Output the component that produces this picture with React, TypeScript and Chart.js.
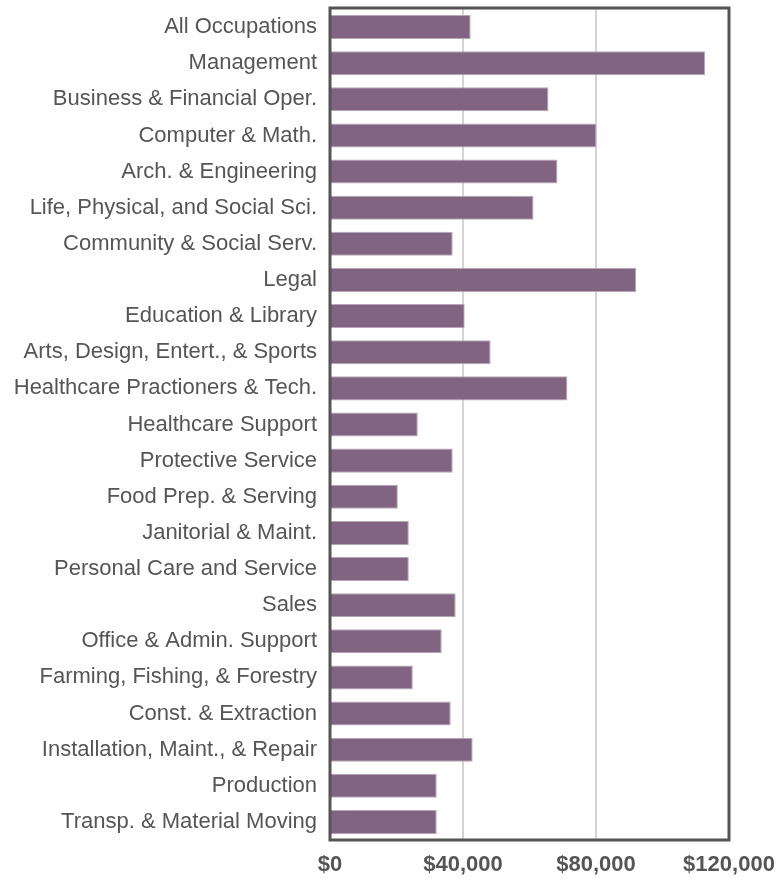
import React, { useEffect, useRef } from "react";
import { Chart, registerables } from "chart.js";

Chart.register(...registerables);

const categories = [
  "All Occupations",
  "Management",
  "Business & Financial Oper.",
  "Computer & Math.",
  "Arch. & Engineering",
  "Life, Physical, and Social Sci.",
  "Community & Social Serv.",
  "Legal",
  "Education & Library",
  "Arts, Design, Entert., & Sports",
  "Healthcare Practioners & Tech.",
  "Healthcare Support",
  "Protective Service",
  "Food Prep. & Serving",
  "Janitorial & Maint.",
  "Personal Care and Service",
  "Sales",
  "Office & Admin. Support",
  "Farming, Fishing, & Forestry",
  "Const. & Extraction",
  "Installation, Maint., & Repair",
  "Production",
  "Transp. & Material Moving",
];

const medianWages = [
  42300, 112800, 65700, 80100, 68400, 61200, 36900, 92100, 40500, 48300, 71400,
  26400, 36900, 20400, 23700, 23700, 37800, 33600, 24900, 36300, 42900, 32100,
  32100,
];

const xTickValues = [0, 40000, 80000, 120000];

const framePlugin = {
  id: "frame",
  afterDraw(chart: any) {
    const { ctx, chartArea } = chart;
    ctx.save();
    ctx.strokeStyle = "#555555";
    ctx.lineWidth = 3;
    ctx.strokeRect(
      chartArea.left,
      chartArea.top - 1,
      chartArea.right - chartArea.left,
      chartArea.bottom - chartArea.top + 1
    );
    ctx.restore();
  },
};

export default function App() {
  const ref = useRef<HTMLCanvasElement>(null);
  useEffect(() => {
    document.body.style.margin = "0";
    const chart = new Chart(ref.current!, {
      type: "bar",
      data: {
        labels: categories,
        datasets: [
          {
            data: medianWages,
            backgroundColor: "#806481",
            borderColor: "#b8a6b8",
            borderWidth: 1,
            borderSkipped: "start",
            barPercentage: 0.665,
            categoryPercentage: 1,
          },
        ],
      },
      options: {
        indexAxis: "y",
        animation: false,
        responsive: false,
        maintainAspectRatio: false,
        layout: { padding: { top: 9, right: 49, left: 0, bottom: 0 } },
        plugins: { legend: { display: false }, tooltip: { enabled: false } },
        scales: {
          x: {
            min: 0,
            max: 120000,
            afterBuildTicks(scale: any) {
              scale.ticks = xTickValues.map((v) => ({ value: v }));
            },
            afterFit(scale: any) {
              scale.height = 40;
              scale.paddingLeft = 0;
              scale.paddingRight = 0;
            },
            grid: {
              color: (c: any) =>
                c.tick && (c.tick.value === 0 || c.tick.value === 120000)
                  ? "rgba(0,0,0,0)"
                  : "#d4d4d4",
              lineWidth: 2,
              drawTicks: false,
            },
            border: { display: false },
            ticks: {
              padding: 12,
              color: "#555555",
              font: { family: "Liberation Sans, Arial, sans-serif", size: 22, weight: "bold" },
              callback: (v: any) => "$" + Number(v).toLocaleString("en-US"),
              maxRotation: 0,
            },
          },
          y: {
            afterFit(scale: any) {
              scale.width = 330;
              scale.paddingTop = 0;
              scale.paddingBottom = 0;
            },
            grid: { display: false, drawTicks: false },
            border: { display: false },
            ticks: {
              padding: 13,
              color: "#555555",
              font: { family: "Liberation Sans, Arial, sans-serif", size: 22 },
              autoSkip: false,
            },
          },
        },
      },
      plugins: [framePlugin],
    });
    return () => chart.destroy();
  }, []);
  return (
    <div style={{ width: 778, height: 880 }}>
      <canvas ref={ref} width={778} height={880} style={{ display: "block" }} />
    </div>
  );
}
